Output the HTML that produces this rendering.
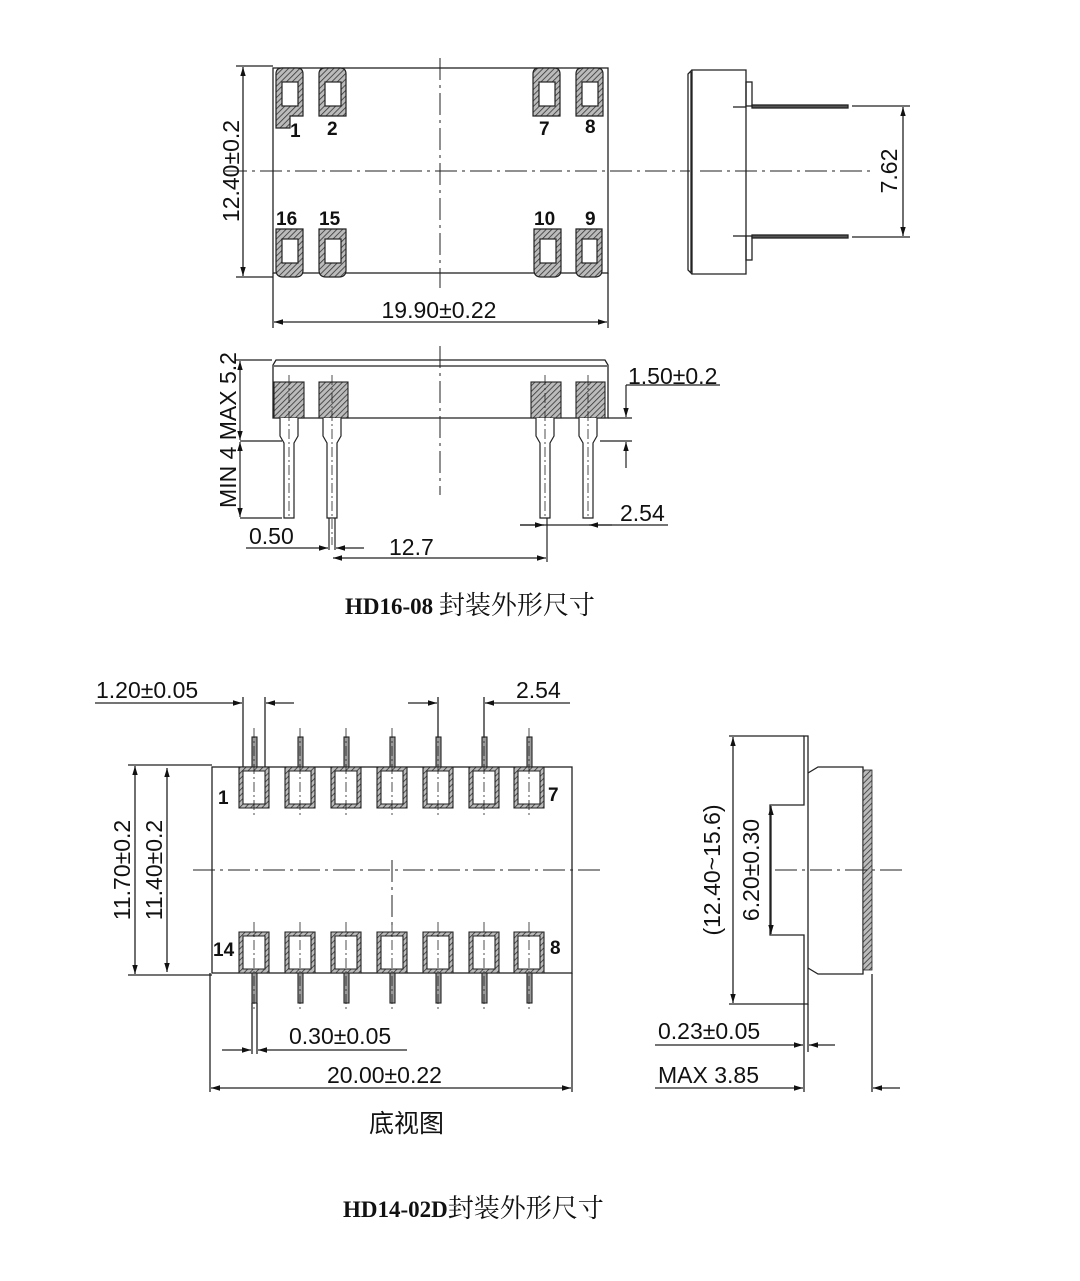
<!DOCTYPE html>
<html><head><meta charset="utf-8"><style>
html,body{margin:0;padding:0;background:#fff;}
svg{display:block;}
text{font-family:"Liberation Sans","Noto Sans CJK SC",sans-serif;fill:#111;}
.t{font-family:"Liberation Serif","Noto Serif CJK SC",serif;font-weight:bold;}
</style></head><body>
<svg width="1080" height="1281" viewBox="0 0 1080 1281" xmlns="http://www.w3.org/2000/svg">
<defs>
<pattern id="h" width="4" height="4" patternUnits="userSpaceOnUse" patternTransform="rotate(45)">
<rect width="4" height="4" fill="#bbb"/><line x1="0" y1="0" x2="0" y2="4" stroke="#333" stroke-width="1.6"/></pattern>
<marker id="a" viewBox="0 0 10 10" refX="10" refY="5" markerWidth="9" markerHeight="9" markerUnits="userSpaceOnUse" orient="auto-start-reverse"><path d="M0,2 L10,5 L0,8z" fill="#111"/></marker>
</defs>
<g stroke="#222" stroke-width="1.3" fill="none">
<rect x="273" y="68" width="335" height="205"/>
<line x1="236" y1="66" x2="273" y2="66"/><line x1="236" y1="277" x2="273" y2="277"/>
<line x1="243" y1="67" x2="243" y2="276" marker-start="url(#a)" marker-end="url(#a)"/>
<line x1="273" y1="273" x2="273" y2="328"/><line x1="608" y1="273" x2="608" y2="328"/>
<line x1="274" y1="322" x2="607" y2="322" marker-start="url(#a)" marker-end="url(#a)"/>
<line x1="440" y1="58" x2="440" y2="288" stroke-dasharray="22,5,3,5" stroke-width="1"/>
<line x1="225" y1="171" x2="690" y2="171" stroke-dasharray="22,5,3,5" stroke-width="1"/>
<line x1="700" y1="171" x2="870" y2="171" stroke-dasharray="22,5,3,5" stroke-width="1"/>
</g>
<g stroke="#222" stroke-width="1.2">
<path d="M276,116 V74 Q276,68 282,68 H297 Q303,68 303,74 V116 H290 V128 H276 Z" fill="url(#h)"/>
<rect x="282" y="82" width="16" height="24" fill="#fff"/>
<path d="M319,116 V74 Q319,68 325,68 H340 Q346,68 346,74 V116 Z" fill="url(#h)"/>
<rect x="325" y="82" width="16" height="24" fill="#fff"/>
<path d="M533,116 V74 Q533,68 539,68 H554 Q560,68 560,74 V116 Z" fill="url(#h)"/>
<rect x="539" y="82" width="16" height="24" fill="#fff"/>
<path d="M576,116 V74 Q576,68 582,68 H597 Q603,68 603,74 V116 Z" fill="url(#h)"/>
<rect x="582" y="82" width="16" height="24" fill="#fff"/>
<path d="M276,229 H303 V270 Q303,277 296,277 H283 Q276,277 276,270 Z" fill="url(#h)"/>
<rect x="282" y="239" width="16" height="24" fill="#fff"/>
<path d="M319,229 H346 V270 Q346,277 339,277 H326 Q319,277 319,270 Z" fill="url(#h)"/>
<rect x="325" y="239" width="16" height="24" fill="#fff"/>
<path d="M534,229 H561 V270 Q561,277 554,277 H541 Q534,277 534,270 Z" fill="url(#h)"/>
<rect x="540" y="239" width="16" height="24" fill="#fff"/>
<path d="M576,229 H602 V270 Q602,277 595,277 H583 Q576,277 576,270 Z" fill="url(#h)"/>
<rect x="582" y="239" width="15" height="24" fill="#fff"/>
</g>
<g font-size="19" font-weight="bold">
<text x="290" y="137">1</text><text x="327" y="135">2</text><text x="539" y="135">7</text><text x="585" y="133">8</text>
<text x="276" y="225">16</text><text x="319" y="225">15</text><text x="534" y="225">10</text><text x="585" y="225">9</text>
</g>
<g font-size="23">
<text x="439" y="318" text-anchor="middle">19.90±0.22</text>
<text transform="translate(239,171) rotate(-90)" text-anchor="middle">12.40±0.2</text>
<text transform="translate(897,171) rotate(-90)" text-anchor="middle">7.62</text>
</g>
<g stroke="#222" stroke-width="1.3" fill="none">
<path d="M692,70 H746 V274 H692 Z"/>
<path d="M692,70 L688,74 V270 L692,274"/>
<line x1="691" y1="72" x2="691" y2="272"/>
<rect x="746" y="82" width="6" height="24"/>
<rect x="746" y="236" width="6" height="24"/>
<line x1="733" y1="107" x2="746" y2="107"/><line x1="733" y1="236" x2="746" y2="236"/>
<rect x="752" y="105" width="96" height="3" fill="#555"/>
<rect x="752" y="235" width="96" height="3" fill="#555"/>
<line x1="852" y1="106" x2="910" y2="106"/><line x1="852" y1="237" x2="910" y2="237"/>
<line x1="903" y1="107" x2="903" y2="236" marker-start="url(#a)" marker-end="url(#a)"/>
</g>
<g stroke="#222" stroke-width="1.3" fill="none">
<path d="M273,418 V365 L276,360 H605 L608,365 V418 Z"/>
<line x1="274" y1="366" x2="607" y2="366"/>
<line x1="440" y1="346" x2="440" y2="495" stroke-dasharray="22,5,3,5" stroke-width="1"/>
</g>
<g stroke="#222" stroke-width="1.1">
<rect x="274" y="382" width="30" height="36" fill="url(#h)"/>
<rect x="319" y="382" width="29" height="36" fill="url(#h)"/>
<rect x="531" y="382" width="30" height="36" fill="url(#h)"/>
<rect x="576" y="382" width="29" height="36" fill="url(#h)"/>
</g>
<g stroke="#222" stroke-width="1.2" fill="#fff">
<path d="M280,418 V436 L284,443 V518 H294 V443 L298,436 V418"/>
<path d="M323,418 V436 L327,443 V518 H337 V443 L341,436 V418"/>
<path d="M536,418 V436 L540,443 V518 H550 V443 L554,436 V418"/>
<path d="M579,418 V436 L583,443 V518 H593 V443 L597,436 V418"/>
<line x1="329" y1="518" x2="329" y2="550"/><line x1="335" y1="518" x2="335" y2="550"/>
</g>
<g stroke="#222" stroke-width="0.8" stroke-dasharray="10,3,2,3">
<line x1="289" y1="375" x2="289" y2="518"/><line x1="332" y1="375" x2="332" y2="545"/>
<line x1="545" y1="375" x2="545" y2="518"/><line x1="588" y1="375" x2="588" y2="518"/>
</g>
<g stroke="#222" stroke-width="1.2" fill="none">
<line x1="236" y1="360" x2="272" y2="360"/>
<line x1="240" y1="441" x2="282" y2="441"/>
<line x1="240" y1="518" x2="282" y2="518"/>
<line x1="240" y1="361" x2="240" y2="440" marker-start="url(#a)" marker-end="url(#a)"/>
<line x1="240" y1="442" x2="240" y2="517" marker-start="url(#a)" marker-end="url(#a)"/>
<line x1="608" y1="418" x2="632" y2="418"/><line x1="600" y1="441" x2="632" y2="441"/>
<line x1="626" y1="385" x2="720" y2="385"/>
<line x1="626" y1="385" x2="626" y2="417" marker-end="url(#a)"/>
<line x1="626" y1="468" x2="626" y2="442" marker-end="url(#a)"/>
<line x1="520" y1="525" x2="668" y2="525"/>
<line x1="520" y1="525" x2="544" y2="525" marker-end="url(#a)"/>
<line x1="612" y1="525" x2="589" y2="525" marker-end="url(#a)"/>
<line x1="547" y1="518" x2="547" y2="562"/>
<line x1="246" y1="548" x2="328" y2="548" marker-end="url(#a)"/>
<line x1="364" y1="548" x2="336" y2="548" marker-end="url(#a)"/>
<line x1="333" y1="558" x2="546" y2="558" marker-start="url(#a)" marker-end="url(#a)"/>
</g>
<g font-size="23">
<text transform="translate(236,430) rotate(-90)" text-anchor="middle">MIN 4  MAX 5.2</text>
<text x="628" y="384">1.50±0.2</text>
<text x="620" y="521">2.54</text>
<text x="249" y="544">0.50</text>
<text x="389" y="555">12.7</text>
</g>
<text x="345" y="614" class="t" font-size="23">HD16-08 <tspan font-weight="normal" font-size="26" font-family="'Noto Serif CJK SC',serif">封装外形尺寸</tspan></text>

<g stroke="#222" stroke-width="1.3" fill="none">
<rect x="212" y="767" width="360" height="206"/>
<line x1="193" y1="870" x2="600" y2="870" stroke-dasharray="22,5,3,5" stroke-width="1"/>
<line x1="392" y1="860" x2="392" y2="930" stroke-dasharray="22,5,3,5" stroke-width="1"/>
<line x1="128" y1="765" x2="212" y2="765"/><line x1="128" y1="975" x2="212" y2="975"/>
<line x1="135" y1="766" x2="135" y2="974" marker-start="url(#a)" marker-end="url(#a)"/>
<line x1="167" y1="768" x2="167" y2="972" marker-start="url(#a)" marker-end="url(#a)"/>
<line x1="243" y1="697" x2="243" y2="767"/><line x1="265" y1="697" x2="265" y2="767"/>
<line x1="95" y1="703" x2="242" y2="703" marker-end="url(#a)"/>
<line x1="294" y1="703" x2="266" y2="703" marker-end="url(#a)"/>
<line x1="438" y1="697" x2="438" y2="740"/><line x1="484" y1="697" x2="484" y2="740"/>
<line x1="408" y1="703" x2="437" y2="703" marker-end="url(#a)"/>
<line x1="570" y1="703" x2="485" y2="703" marker-end="url(#a)"/>
<line x1="252" y1="1003" x2="252" y2="1054"/><line x1="257" y1="1003" x2="257" y2="1054"/>
<line x1="222" y1="1050" x2="251" y2="1050" marker-end="url(#a)"/>
<line x1="407" y1="1050" x2="258" y2="1050" marker-end="url(#a)"/>
<line x1="210" y1="973" x2="210" y2="1092"/><line x1="572" y1="973" x2="572" y2="1092"/>
<line x1="211" y1="1088" x2="571" y2="1088" marker-start="url(#a)" marker-end="url(#a)"/>
</g>
<g stroke="#222" stroke-width="1.1">
<g id="pt">
<rect x="252" y="737" width="5" height="30" fill="#999"/>
<path d="M239,767 H269 V808 H239 Z M243,771 H265 V804 H243 Z" fill="url(#h)" fill-rule="evenodd"/>
</g>
<use href="#pt" x="46"/><use href="#pt" x="92"/><use href="#pt" x="138"/><use href="#pt" x="184"/><use href="#pt" x="230"/><use href="#pt" x="275"/>
<g id="pb">
<rect x="252" y="973" width="5" height="30" fill="#999"/>
<path d="M239,932 H269 V973 H239 Z M243,936 H265 V969 H243 Z" fill="url(#h)" fill-rule="evenodd"/>
</g>
<use href="#pb" x="46"/><use href="#pb" x="92"/><use href="#pb" x="138"/><use href="#pb" x="184"/><use href="#pb" x="230"/><use href="#pb" x="275"/>
</g>
<g stroke="#222" stroke-width="0.8" stroke-dasharray="10,3,2,3">
<line x1="254" y1="728" x2="254" y2="818"/><line x1="300" y1="728" x2="300" y2="818"/><line x1="346" y1="728" x2="346" y2="818"/><line x1="392" y1="728" x2="392" y2="818"/><line x1="438" y1="728" x2="438" y2="818"/><line x1="484" y1="728" x2="484" y2="818"/><line x1="529" y1="728" x2="529" y2="818"/>
<line x1="254" y1="922" x2="254" y2="1012"/><line x1="300" y1="922" x2="300" y2="1012"/><line x1="346" y1="922" x2="346" y2="1012"/><line x1="392" y1="922" x2="392" y2="1012"/><line x1="438" y1="922" x2="438" y2="1012"/><line x1="484" y1="922" x2="484" y2="1012"/><line x1="529" y1="922" x2="529" y2="1012"/>
</g>
<g font-size="19" font-weight="bold">
<text x="218" y="804">1</text><text x="548" y="801">7</text><text x="213" y="956">14</text><text x="550" y="954">8</text>
</g>
<g font-size="23">
<text x="96" y="698">1.20±0.05</text>
<text x="516" y="698">2.54</text>
<text x="289" y="1044">0.30±0.05</text>
<text x="327" y="1083">20.00±0.22</text>
<text transform="translate(130,870) rotate(-90)" text-anchor="middle">11.70±0.2</text>
<text transform="translate(162,870) rotate(-90)" text-anchor="middle">11.40±0.2</text>
<text transform="translate(720,870) rotate(-90)" text-anchor="middle">(12.40~15.6)</text>
<text transform="translate(759,870) rotate(-90)" text-anchor="middle">6.20±0.30</text>
<text x="658" y="1039">0.23±0.05</text>
<text x="658" y="1083">MAX 3.85</text>
</g>
<text x="369" y="1132" font-size="25" font-family="'Noto Sans CJK SC',sans-serif">底视图</text>
<g stroke="#222" stroke-width="1.3" fill="none">
<path d="M804,736 H808 V1004 H804 V935 H770 V805 H804 Z"/>
<path d="M808,773 L818,767 H863 V974 H818 L808,968"/>
<rect x="863" y="770" width="9" height="200" fill="url(#h)" stroke-width="0.8"/>
<line x1="729" y1="736" x2="804" y2="736"/><line x1="729" y1="1004" x2="804" y2="1004"/>
<line x1="733" y1="737" x2="733" y2="1003" marker-start="url(#a)" marker-end="url(#a)"/>
<line x1="771" y1="806" x2="771" y2="934" marker-start="url(#a)" marker-end="url(#a)"/>
<line x1="775" y1="870" x2="905" y2="870" stroke-dasharray="22,5,3,5" stroke-width="1"/>
<line x1="804" y1="1004" x2="804" y2="1092"/><line x1="808" y1="1004" x2="808" y2="1052"/>
<line x1="872" y1="974" x2="872" y2="1092"/>
<line x1="655" y1="1045" x2="803" y2="1045" marker-end="url(#a)"/>
<line x1="835" y1="1045" x2="809" y2="1045" marker-end="url(#a)"/>
<line x1="655" y1="1088" x2="803" y2="1088" marker-end="url(#a)"/>
<line x1="900" y1="1088" x2="873" y2="1088" marker-end="url(#a)"/>
</g>
<text x="343" y="1217" class="t" font-size="23">HD14-02D<tspan font-weight="normal" font-size="26" font-family="'Noto Serif CJK SC',serif">封装外形尺寸</tspan></text>
</svg>
</body></html>
